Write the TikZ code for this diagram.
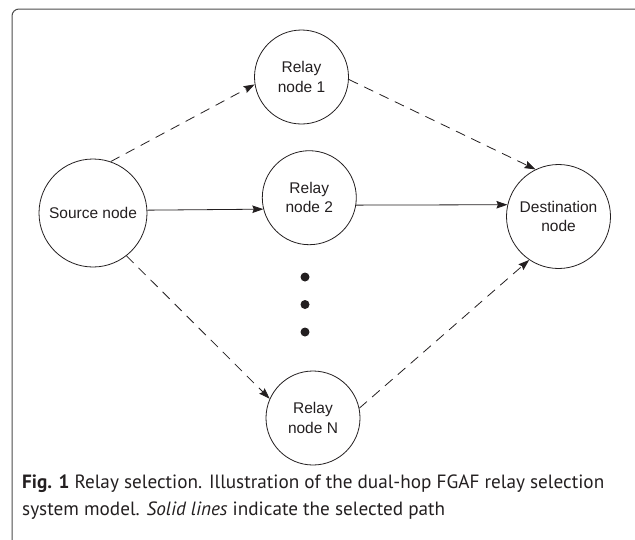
\documentclass[tikz,border=0pt]{standalone}
\usepackage{fontspec}
\setmainfont{Liberation Sans}
\newfontfamily\capfont{PT Sans}
\usetikzlibrary{arrows.meta}
\definecolor{ink}{HTML}{231F20}
\begin{document}
\begin{tikzpicture}[x=1pt,y=-1pt,
  nd/.style={circle,draw=ink,line width=0.8pt,inner sep=0pt,align=center,text=ink,
    font=\fontsize{15.5}{19.5}\selectfont},
  conn/.style={draw=ink,line width=0.8pt,-{Stealth[length=11pt,width=7.5pt,inset=1.5pt]}},
  dsh/.style={conn,dash pattern=on 10pt off 7pt},
  dotn/.style={circle,fill=ink,inner sep=0pt,minimum size=9pt},
  captext/.style={anchor=base west,inner sep=0pt,text=ink,font=\capfont\fontsize{19.2}{23}\selectfont}]
\useasboundingbox (0,0) rectangle (635,539);
\draw[gray!60!black,line width=1pt,rounded corners=7pt] (12,560) -- (12,9) -- (660,9);
\node[nd,minimum size=108pt] (src) at (93,213) {Source node};
\node[nd,minimum size=94pt] (r1) at (301.5,77) {Relay\\node 1};
\node[nd,minimum size=94pt] (r2) at (309.3,197.7) {Relay\\node 2};
\node[nd,minimum size=94pt] (rN) at (313,418) {Relay\\node N};
\node[nd,minimum size=104pt] (dst) at (558.5,216.5) {Destination\\node};
\node[dotn] (d1) at (305,277) {};
\node[dotn] (d2) at (305,304.5) {};
\node[dotn] (d3) at (305,332) {};
\draw[dsh] (src.71.6) -- (r1.189.8);
\draw[dsh] (r1.-3.7) -- (dst.116.8);
\draw[conn] (src.3.9) -- (r2.194.4);
\draw[conn] (r2.-9.9) -- (dst.167.2);
\draw[dsh] (src.-52) -- (rN.156.2);
\draw[dsh] (rN.12) -- (dst.236);
\node[captext] (c1) at (22,488) {\textbf{Fig. 1} Relay selection. Illustration of the dual-hop FGAF relay selection};
\node[captext] (c2) at (22,515) {system model. \textit{Solid lines} indicate the selected path};
\end{tikzpicture}
\end{document}
